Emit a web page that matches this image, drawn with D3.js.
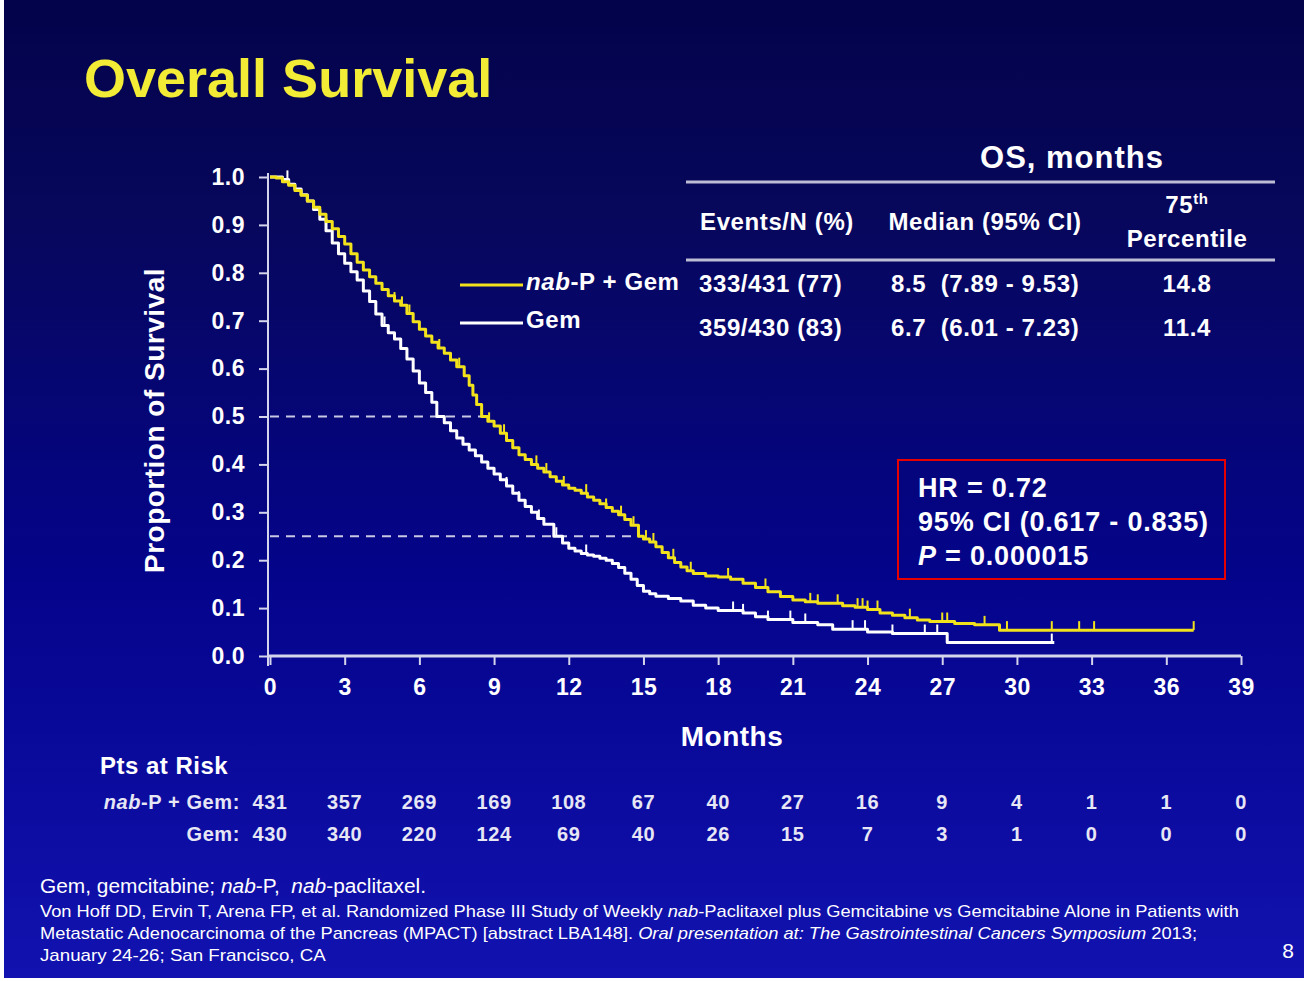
<!DOCTYPE html>
<html>
<head>
<meta charset="utf-8">
<script src="https://cdn.jsdelivr.net/npm/d3@7"></script>
<style>
  html, body { margin: 0; padding: 0; background: #ffffff; }
  svg { display: block; }
  text { font-family: "Liberation Sans", Arial, sans-serif; white-space: pre; }
</style>
</head>
<body>
<svg id="chart" width="1308" height="981"></svg>
<script>
// ---- data ----
const monthTicks = [0, 3, 6, 9, 12, 15, 18, 21, 24, 27, 30, 33, 36, 39];
const survivalTicks = [0, 0.1, 0.2, 0.3, 0.4, 0.5, 0.6, 0.7, 0.8, 0.9, 1.0];

// Kaplan-Meier steps, nab-P + Gem (time in months, proportion surviving)
const nabTime = [0, 0.25, 0.5, 0.75, 1.0, 1.25, 1.5, 1.75, 2.0, 2.25, 2.5, 2.75, 3.0, 3.25, 3.5, 3.75,
  4.0, 4.25, 4.5, 4.75, 5.0, 5.25, 5.5, 5.75, 6.0, 6.25, 6.5, 6.75, 7.0, 7.25, 7.5, 7.8,
  8.0, 8.15, 8.3, 8.5, 8.75, 9.0, 9.25, 9.5, 9.75, 10.0, 10.25, 10.5, 10.75, 11.0, 11.25, 11.5, 11.75,
  12.0, 12.25, 12.5, 12.75, 13.0, 13.25, 13.5, 13.75, 14.0, 14.25, 14.5, 14.8, 15.0, 15.25, 15.5, 15.75,
  16.0, 16.25, 16.5, 16.75, 17.0, 17.5, 18.0, 18.5, 19.0, 19.5, 20.0, 20.5, 21.0, 21.5, 22.0,
  23.0, 23.5, 24.0, 24.5, 25.0, 25.5, 26.0, 26.5, 27.5, 28.3, 29.3, 37.1];
const nabSurv = [1.0, 0.998, 0.99, 0.983, 0.972, 0.962, 0.95, 0.937, 0.922, 0.907, 0.892, 0.876, 0.86, 0.84, 0.822, 0.806,
  0.792, 0.778, 0.765, 0.752, 0.741, 0.732, 0.715, 0.698, 0.682, 0.668, 0.655, 0.643, 0.632, 0.618, 0.604, 0.585,
  0.565, 0.545, 0.525, 0.50, 0.49, 0.48, 0.465, 0.45, 0.435, 0.42, 0.41, 0.40, 0.392, 0.384, 0.374, 0.365, 0.357,
  0.35, 0.346, 0.34, 0.332, 0.325, 0.318, 0.31, 0.302, 0.295, 0.285, 0.273, 0.25, 0.244, 0.238, 0.228, 0.216,
  0.205, 0.195, 0.186, 0.178, 0.172, 0.167, 0.165, 0.16, 0.152, 0.143, 0.134, 0.124, 0.117, 0.113, 0.11,
  0.105, 0.102, 0.097, 0.09, 0.085, 0.08, 0.075, 0.072, 0.068, 0.065, 0.054, 0.054];
const nabCensor = [5.0, 5.3, 5.6, 6.8, 7.6, 8.8, 9.4, 10.7, 11.1, 11.8, 12.7, 13.5, 14.1, 14.6, 15.1, 15.4, 16.2, 16.9,
  18.4, 19.9, 21.7, 22.0, 22.8, 23.6, 23.8, 24.0, 24.4, 25.7, 27.0, 27.2, 28.7, 29.6, 31.4, 32.5, 33.1, 37.1];

// Kaplan-Meier steps, Gem
const gemTime = [0, 0.25, 0.5, 0.75, 1.0, 1.25, 1.5, 1.75, 2.0, 2.25, 2.5, 2.75, 3.0, 3.25, 3.5, 3.75,
  4.0, 4.25, 4.5, 4.75, 5.0, 5.25, 5.5, 5.75, 6.0, 6.25, 6.5, 6.7, 7.0, 7.25, 7.5, 7.75,
  8.0, 8.25, 8.5, 8.75, 9.0, 9.25, 9.5, 9.75, 10.0, 10.25, 10.5, 10.75, 11.0, 11.4, 11.75,
  12.0, 12.25, 12.5, 12.75, 13.0, 13.25, 13.5, 13.75, 14.0, 14.25, 14.5, 14.75, 15.0, 15.25, 15.5,
  16.0, 16.5, 17.0, 17.5, 18.0, 19.0, 19.5, 20.0, 21.0, 22.0, 22.6, 24.0, 25.0, 27.2, 31.5];
const gemSurv = [1.0, 1.0, 0.995, 0.985, 0.975, 0.963, 0.95, 0.932, 0.912, 0.888, 0.862, 0.84, 0.82, 0.802, 0.785, 0.762,
  0.74, 0.714, 0.69, 0.675, 0.662, 0.642, 0.62, 0.595, 0.57, 0.55, 0.53, 0.50, 0.487, 0.47, 0.455, 0.442,
  0.43, 0.418, 0.405, 0.392, 0.38, 0.368, 0.355, 0.34, 0.325, 0.312, 0.30, 0.287, 0.275, 0.25, 0.236,
  0.225, 0.219, 0.214, 0.211, 0.208, 0.204, 0.20, 0.193, 0.185, 0.173, 0.16, 0.147, 0.135, 0.13, 0.125,
  0.12, 0.115, 0.106, 0.10, 0.095, 0.09, 0.082, 0.076, 0.07, 0.065, 0.056, 0.05, 0.047, 0.028, 0.028];
const gemCensor = [0.7, 4.6, 9.5, 10.0, 10.8, 11.5, 12.7, 18.6, 19.0, 20.0, 20.9, 21.5, 23.4, 23.9, 25.0, 26.3, 26.8, 31.4];

// reference lines: median and 75th percentile of nab-P + Gem
const refLevels = [0.5, 0.25];
const refTimes = [8.5, 14.8];

// patients at risk
const riskNab = [431, 357, 269, 169, 108, 67, 40, 27, 16, 9, 4, 1, 1, 0];
const riskGem = [430, 340, 220, 124, 69, 40, 26, 15, 7, 3, 1, 0, 0, 0];

// OS summary table
const tableRows = [
  ["333/431 (77)", "8.5  (7.89 - 9.53)", "14.8"],
  ["359/430 (83)", "6.7  (6.01 - 7.23)", "11.4"]
];

// ---- drawing ----
const svg = d3.select("#chart");
const YELLOW = "#f2e21c";
const AXIS = "#d4d4ec";

const defs = svg.append("defs");
const grad = defs.append("linearGradient").attr("id", "bg").attr("x1", 0).attr("y1", 0).attr("x2", 0).attr("y2", 1);
[["0", "#03034b"], ["0.22", "#07075c"], ["0.6", "#04048c"], ["1", "#1212b0"]].forEach(([o, c]) =>
  grad.append("stop").attr("offset", o).attr("stop-color", c));

svg.append("rect").attr("x", 4).attr("y", 0).attr("width", 1300).attr("height", 978).attr("fill", "url(#bg)");

// title
svg.append("text").attr("x", 84).attr("y", 97)
  .attr("font-size", 54).attr("font-weight", "bold").attr("fill", "#f2ec36")
  .text("Overall Survival");

const x = d3.scaleLinear().domain([0, 39]).range([270, 1241]);
const y = d3.scaleLinear().domain([0, 1]).range([656, 177]);

const bold = (sel, size, ls) => sel.attr("font-size", size).attr("font-weight", "bold")
  .attr("letter-spacing", ls == null ? 0.6 : ls).attr("fill", "#ffffff");

// axes
const gx = svg.append("g").attr("transform", `translate(0,${y(0)})`)
  .call(d3.axisBottom(x).tickValues(monthTicks).tickSize(9).tickPadding(14).tickSizeOuter(0));
gx.select(".domain").attr("stroke", AXIS).attr("stroke-width", 3).attr("d", `M${x(0) - 2},0H${x(39)}`);
gx.selectAll(".tick line").attr("stroke", AXIS).attr("stroke-width", 2);
bold(gx.selectAll(".tick text"), 23, 0.5).attr("font-family", "Liberation Sans, Arial, sans-serif");

const gy = svg.append("g").attr("transform", `translate(${x(0) - 2},0)`)
  .call(d3.axisLeft(y).tickValues(survivalTicks).tickFormat(d3.format(".1f")).tickSize(9).tickPadding(14).tickSizeOuter(0));
gy.select(".domain").attr("stroke", AXIS).attr("stroke-width", 2).attr("d", `M0,${y(1) - 4}V${y(0) + 10}`);
gy.selectAll(".tick line").attr("stroke", AXIS).attr("stroke-width", 2);
bold(gy.selectAll(".tick text"), 23, 0.5).attr("font-family", "Liberation Sans, Arial, sans-serif");

// axis titles
bold(svg.append("text").attr("transform", `translate(164,${(y(0) + y(1)) / 2 + 4}) rotate(-90)`)
  .attr("text-anchor", "middle"), 28, 0.5).text("Proportion of Survival");
bold(svg.append("text").attr("x", 732).attr("y", 746).attr("text-anchor", "middle"), 28, 0.5).text("Months");

// dashed reference lines
svg.append("g").selectAll("line").data(refLevels).join("line")
  .attr("x1", x(0)).attr("x2", (d, i) => x(refTimes[i]))
  .attr("y1", d => y(d)).attr("y2", d => y(d))
  .attr("stroke", "#c8c8e4").attr("stroke-width", 2).attr("stroke-dasharray", "9,7");

// survival curves
function drawKM(times, surv, censor, color) {
  const pts = times.map((t, i) => [t, surv[i]]);
  const line = d3.line().x(d => x(d[0])).y(d => y(d[1])).curve(d3.curveStepAfter);
  svg.append("path").datum(pts).attr("d", line)
    .attr("fill", "none").attr("stroke", color).attr("stroke-width", 3).attr("stroke-linejoin", "round");
  const at = t => surv[Math.max(0, d3.bisectRight(times, t) - 1)];
  svg.append("g").selectAll("line").data(censor).join("line")
    .attr("x1", d => x(d)).attr("x2", d => x(d))
    .attr("y1", d => y(at(d))).attr("y2", d => y(at(d)) - 9)
    .attr("stroke", color).attr("stroke-width", 2);
}
drawKM(gemTime, gemSurv, gemCensor, "#ffffff");
drawKM(nabTime, nabSurv, nabCensor, YELLOW);

// legend
const legend = [
  { color: YELLOW, italic: "nab", rest: "-P + Gem", yy: 285 },
  { color: "#ffffff", italic: "", rest: "Gem", yy: 323 }
];
legend.forEach(l => {
  svg.append("line").attr("x1", 460).attr("x2", 523).attr("y1", l.yy).attr("y2", l.yy)
    .attr("stroke", l.color).attr("stroke-width", 3);
  const t = bold(svg.append("text").attr("x", 526).attr("y", l.yy + 5), 24, 0.6);
  if (l.italic) t.append("tspan").attr("font-style", "italic").text(l.italic);
  t.append("tspan").text(l.rest);
});

// OS summary table
bold(svg.append("text").attr("x", 1072).attr("y", 168).attr("text-anchor", "middle"), 31, 1).text("OS, months");
[182, 260].forEach(yy => svg.append("line").attr("x1", 686).attr("x2", 1275).attr("y1", yy).attr("y2", yy)
  .attr("stroke", "#bcbcd4").attr("stroke-width", 3));
bold(svg.append("text").attr("x", 777).attr("y", 230).attr("text-anchor", "middle"), 24).text("Events/N (%)");
bold(svg.append("text").attr("x", 985).attr("y", 230).attr("text-anchor", "middle"), 24).text("Median (95% CI)");
const p75 = bold(svg.append("text").attr("x", 1187).attr("y", 213).attr("text-anchor", "middle"), 24);
p75.append("tspan").text("75");
p75.append("tspan").attr("font-size", 15).attr("dy", -9).text("th");
bold(svg.append("text").attr("x", 1187).attr("y", 247).attr("text-anchor", "middle"), 24).text("Percentile");

const colX = [699, 891, 1187];
const colAnchor = ["start", "start", "middle"];
tableRows.forEach((row, r) => {
  row.forEach((cell, c) => {
    bold(svg.append("text").attr("x", colX[c]).attr("y", 292 + r * 44).attr("text-anchor", colAnchor[c]), 24).text(cell);
  });
});

// hazard ratio box
svg.append("rect").attr("x", 898).attr("y", 460).attr("width", 327).attr("height", 119)
  .attr("fill", "none").attr("stroke", "#e60000").attr("stroke-width", 2);
bold(svg.append("text").attr("x", 918).attr("y", 497), 27, 0.8).text("HR = 0.72");
bold(svg.append("text").attr("x", 918).attr("y", 531), 27, 0.8).text("95% CI (0.617 - 0.835)");
const pt = bold(svg.append("text").attr("x", 918).attr("y", 565), 27, 0.8);
pt.append("tspan").attr("font-style", "italic").text("P");
pt.append("tspan").text(" = 0.000015");

// patients at risk
bold(svg.append("text").attr("x", 100).attr("y", 774), 24, 0.5).text("Pts at Risk");
const riskRows = [
  { vals: riskNab, italic: "nab", rest: "-P + Gem:", yy: 809 },
  { vals: riskGem, italic: "", rest: "Gem:", yy: 841 }
];
riskRows.forEach(rr => {
  const lab = bold(svg.append("text").attr("x", 240).attr("y", rr.yy).attr("text-anchor", "end"), 20, 0.6)
    .attr("fill", "#e6e6f4");
  if (rr.italic) lab.append("tspan").attr("font-style", "italic").text(rr.italic);
  lab.append("tspan").text(rr.rest);
  bold(svg.append("g").selectAll("text").data(rr.vals).join("text")
    .attr("x", (d, i) => x(monthTicks[i])).attr("y", rr.yy).attr("text-anchor", "middle"), 20, 0.6)
    .attr("fill", "#e6e6f4")
    .text(d => d);
});

// footnotes (condensed to their printed widths)
function footLine(parts, xx, yy, size, width) {
  const t = svg.append("text").attr("x", 0).attr("y", 0).attr("font-size", size).attr("fill", "#ffffff");
  parts.forEach(p => t.append("tspan").attr("font-style", p[1] ? "italic" : "normal").text(p[0]));
  const w = t.node().getComputedTextLength();
  t.attr("transform", `translate(${xx},${yy}) scale(${width / w},1)`);
}
footLine([["Gem, gemcitabine; ", 0], ["nab", 1], ["-P,  ", 0], ["nab", 1], ["-paclitaxel.", 0]], 40, 893, 20, 386);
footLine([["Von Hoff DD, Ervin T, Arena FP, et al. Randomized Phase III Study of Weekly ", 0], ["nab", 1],
  ["-Paclitaxel plus Gemcitabine vs Gemcitabine Alone in Patients with", 0]], 40, 917, 16, 1200);
footLine([["Metastatic Adenocarcinoma of the Pancreas (MPACT) [abstract LBA148]. ", 0], ["Oral presentation at: ", 1],
  ["The Gastrointestinal Cancers Symposium", 1], [" 2013;", 0]], 40, 939, 16, 1158);
footLine([["January 24-26; San Francisco, CA", 0]], 40, 961, 16, 286);

svg.append("text").attr("x", 1288).attr("y", 958).attr("text-anchor", "middle")
  .attr("font-size", 21).attr("fill", "#ffffff").text("8");
</script>
</body>
</html>
